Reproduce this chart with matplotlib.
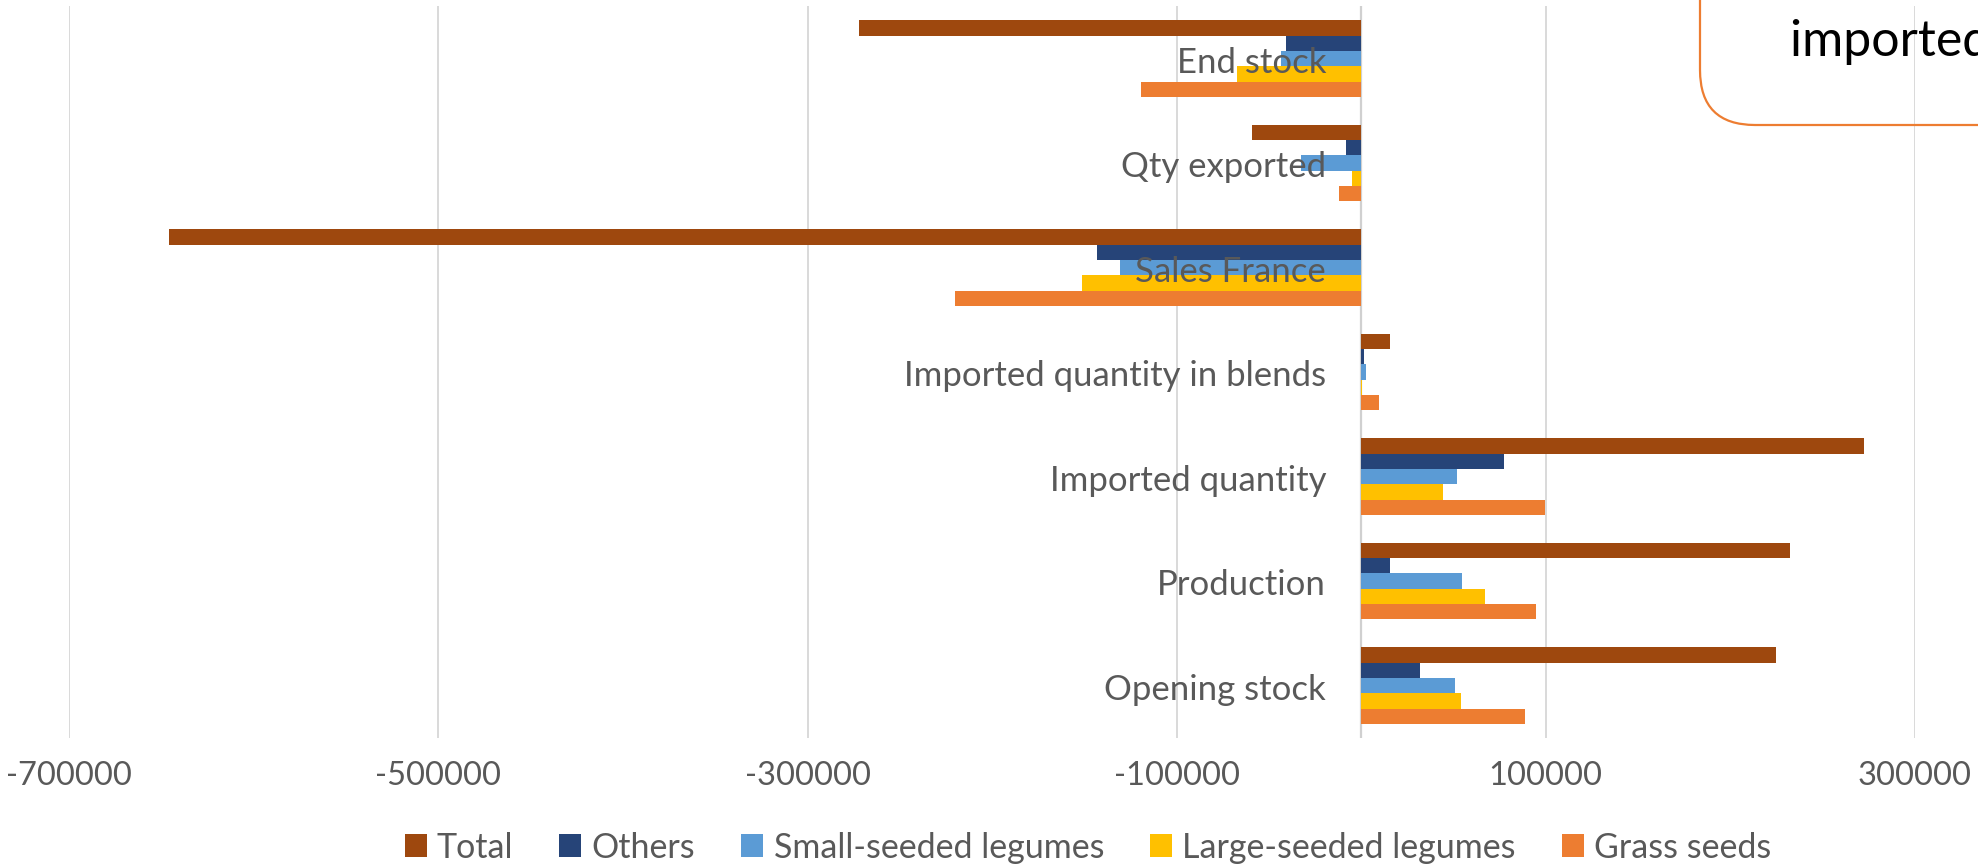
import numpy as np
import matplotlib
matplotlib.use("Agg")
import matplotlib.pyplot as plt
from matplotlib.patches import FancyBboxPatch, Patch
from matplotlib.transforms import offset_copy

plt.rcParams['font.family'] = ['Lato', 'DejaVu Sans']

categories = ['Opening stock', 'Production', 'Imported quantity',
              'Imported quantity in blends', 'Sales France', 'Qty exported', 'End stock']
series_names = ['Total', 'Others', 'Small-seeded legumes', 'Large-seeded legumes', 'Grass seeds']

total = [225000, 232500, 272500, 15500, -646000, -59000, -272000]
others = [31700, 15400, 77200, 1800, -143000, -8000, -40500]
small_seeded = [50800, 54800, 51900, 2900, -130500, -32500, -43500]
large_seeded = [53900, 67200, 44200, 300, -151000, -5000, -67500]
grass_seeds = [88600, 95000, 99400, 9500, -220000, -12000, -119500]

colors = ['#9E480E', '#264478', '#5B9BD5', '#FFC000', '#ED7D31']
xticks = [-700000, -500000, -300000, -100000, 100000, 300000]

fig = plt.figure(figsize=(19.78, 8.65), dpi=100)
ax = fig.add_axes([0.0351, 0.147, 0.968 - 0.0351, 0.9927 - 0.147])

y = np.arange(len(categories))
h = 0.147
all_series = [total, others, small_seeded, large_seeded, grass_seeds]
for i, (vals, col) in enumerate(zip(all_series, colors)):
    ax.barh(y + (2 - i) * h, vals, height=h, color=col, zorder=3)

ax.set_xlim(-700000, 300000)
ax.set_ylim(-0.5, 6.5)
ax.set_xticks(xticks)
ax.set_xticklabels([str(t) for t in xticks], color='#595959', fontsize=23.5)
ax.tick_params(axis='x', length=0, pad=17)
ax.set_yticks([])
ax.grid(axis='x', color='#D9D9D9', lw=1.4, zorder=0)
ax.axvline(0, color='#D0D0D0', lw=1.6, zorder=2)
for s in ax.spines.values():
    s.set_visible(False)

# category labels next to the zero axis
lab_tr = offset_copy(ax.transData, fig=fig, x=-35, y=-4, units='dots')
for yi, name in zip(y, categories):
    ax.text(0, yi, name, transform=lab_tr, ha='right', va='center',
            fontsize=25, color='#595959', zorder=5)

handles = [Patch(facecolor=c, label=n) for c, n in zip(colors, series_names)]
fig.legend(handles=handles, loc='center', bbox_to_anchor=(0.55, 0.02), ncol=5,
           frameon=False, fontsize=24.5, labelcolor='#595959',
           handlelength=0.65, handleheight=0.65, handletextpad=0.3, columnspacing=1.35)

# cut-off callout box in the top right corner
ov = fig.add_axes([0, 0, 1, 1], zorder=10)
ov.set_xlim(0, 1978)
ov.set_ylim(865, 0)
ov.axis('off')
ov.patch.set_alpha(0)
box = FancyBboxPatch((1700, -200), 500, 325, boxstyle='round,pad=0,rounding_size=55',
                     fill=False, edgecolor='#ED7D31', lw=1.6)
ov.add_patch(box)
ov.text(1790, 56, 'imported quantity', fontsize=36, color='black', va='baseline', ha='left')

fig.savefig('out.png', dpi=100)
